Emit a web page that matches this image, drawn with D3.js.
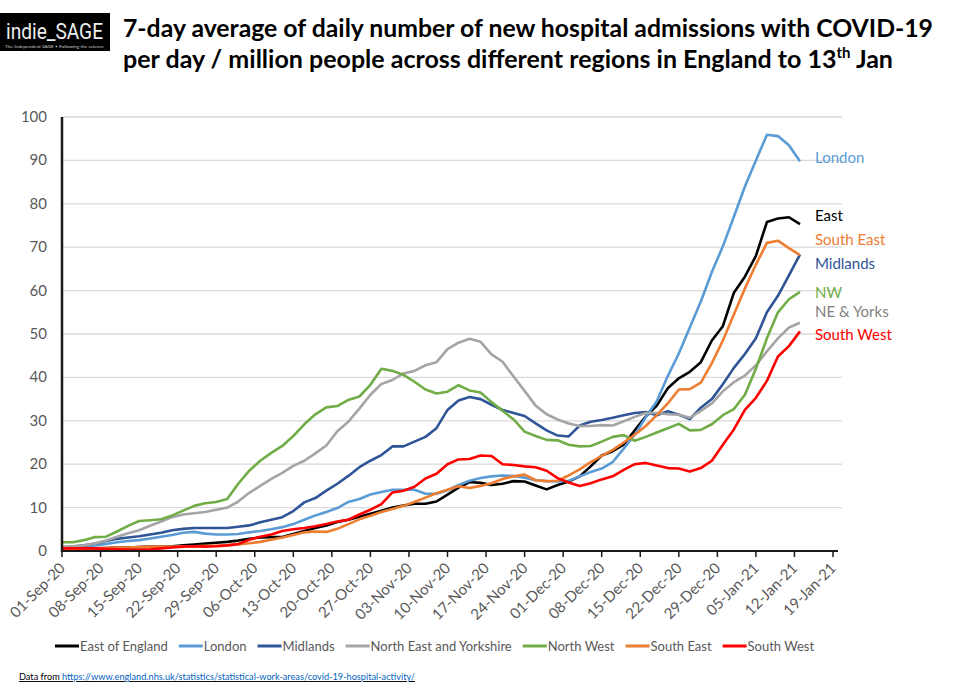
<!DOCTYPE html>
<html><head><meta charset="utf-8">
<script src="https://cdn.jsdelivr.net/npm/d3@7"></script>
<style>body{margin:0;background:#fff;} svg{display:block;font-family:Lato,"Open Sans",sans-serif;}</style>
</head><body><svg id="c" width="955" height="690"></svg>
<script>
// ---- data (values every 2 days from 01-Sep-20 to 13-Jan-21) ----
const startDate = "2020-09-01";
const stepDays = 2;
const eastOfEngland = [0.5,0.5,0.6,0.6,0.7,0.8,0.8,0.9,1.0,1.0,1.1,1.3,1.5,1.7,1.9,2.1,2.4,2.8,3.1,3.2,3.2,3.9,4.6,5.3,5.9,6.7,7.2,7.9,8.6,9.3,10.0,10.5,10.9,10.9,11.4,13.0,14.6,15.9,15.7,15.2,15.5,16.1,16.0,15.1,14.2,15.2,16.0,17.2,19.5,22.0,23.0,24.5,27.8,31.0,33.5,37.5,39.8,41.3,43.5,48.5,51.8,59.5,63.2,68.0,75.8,76.6,76.9,75.3];
const london = [0.8,0.9,1.0,1.3,1.6,2.0,2.3,2.5,2.9,3.3,3.7,4.2,4.4,4.0,3.8,3.8,3.9,4.3,4.6,5.0,5.5,6.2,7.2,8.2,9.0,9.9,11.3,12.0,13.0,13.6,14.1,14.1,14.1,13.2,13.2,14.0,15.2,16.2,16.8,17.2,17.4,17.3,16.9,16.3,16.1,16.0,16.2,17.2,18.2,19.0,20.5,23.6,26.8,30.8,34.5,40.3,45.5,51.5,57.5,64.3,70.2,77.0,84.0,90.0,95.9,95.6,93.5,89.8];
const midlands = [0.8,1.0,1.3,1.7,2.3,2.8,3.1,3.4,3.8,4.2,4.8,5.1,5.3,5.3,5.3,5.3,5.6,5.9,6.6,7.2,7.8,9.2,11.2,12.2,13.9,15.5,17.3,19.3,20.8,22.1,24.1,24.1,25.2,26.3,28.3,32.5,34.7,35.5,35.0,33.7,32.5,31.8,31.1,29.4,27.8,26.6,26.4,28.9,29.8,30.2,30.7,31.3,31.8,32.0,31.3,32.2,31.4,30.4,33.0,35.0,38.4,42.2,45.4,49.0,55.0,58.8,63.5,68.3];
const northEastYorkshire = [1.0,1.1,1.3,1.7,2.4,3.3,4.1,4.8,5.8,6.8,7.8,8.4,8.7,9.0,9.5,10.0,11.4,13.4,15.0,16.6,18.0,19.6,20.8,22.5,24.3,27.6,29.8,32.8,36.0,38.5,39.4,40.9,41.5,42.8,43.5,46.5,48.0,48.9,48.2,45.3,43.6,40.2,36.9,33.5,31.5,30.3,29.4,28.8,28.8,29.0,28.9,29.9,30.9,31.8,31.8,31.5,31.4,30.7,32.3,34.0,36.8,38.9,40.4,42.8,46.0,49.0,51.5,52.6];
const northWest = [2.0,2.0,2.5,3.2,3.3,4.5,5.8,6.9,7.1,7.3,8.2,9.3,10.4,11.0,11.3,12.0,15.5,18.5,20.8,22.6,24.2,26.5,29.2,31.5,33.1,33.4,34.8,35.6,38.3,42.0,41.5,40.6,39.0,37.2,36.3,36.7,38.2,37.0,36.5,34.3,32.3,30.3,27.5,26.5,25.6,25.5,24.5,24.1,24.2,25.2,26.3,26.7,25.4,26.3,27.3,28.3,29.3,27.8,27.9,29.2,31.3,32.7,36.0,42.0,49.0,55.0,58.0,59.7];
const southEast = [0.5,0.5,0.6,0.6,0.7,0.8,0.8,0.9,1.0,1.0,1.0,1.1,1.1,1.2,1.2,1.3,1.5,1.8,2.1,2.6,3.1,3.7,4.3,4.5,4.4,5.1,6.2,7.3,8.1,9.0,9.7,10.4,11.3,12.3,13.3,14.1,14.9,14.5,15.0,15.6,16.6,17.2,17.6,16.3,16.1,16.2,17.4,18.8,20.5,21.9,23.3,25.0,26.8,28.8,31.3,34.0,37.2,37.3,38.8,43.3,48.5,54.5,60.5,66.0,71.0,71.5,69.8,68.2];
const southWest = [0.6,0.6,0.6,0.6,0.5,0.4,0.3,0.3,0.4,0.6,0.8,1.0,1.1,1.0,1.1,1.3,1.6,2.6,3.3,3.8,4.6,5.0,5.3,5.7,6.2,6.8,7.2,8.4,9.5,10.8,13.5,13.9,14.8,16.7,17.8,20.0,21.1,21.2,22.0,21.9,20.0,19.8,19.5,19.3,18.5,16.8,15.8,15.0,15.6,16.5,17.2,18.7,20.0,20.3,19.7,19.1,19.0,18.3,19.1,20.8,24.5,28.0,32.5,35.3,39.2,44.8,47.2,50.6];

const seriesNames = ["East of England","London","Midlands","North East and Yorkshire","North West","South East","South West"];
const seriesValues = [eastOfEngland,london,midlands,northEastYorkshire,northWest,southEast,southWest];
const seriesColors = ["#000000","#5B9BD5","#2F5597","#A5A5A5","#70AD47","#ED7D31","#FF0000"];

const endLabels = ["London","East","South East","Midlands","NW","NE & Yorks","South West"];
const endLabelColors = ["#5B9BD5","#000000","#ED7D31","#2F5597","#70AD47","#7F7F7F","#FF0000"];
const endLabelAt = [90.6,77.3,71.7,66.2,59.5,55.1,49.8];

const xAxisStart = "2020-09-01", xAxisEnd = "2021-01-19";
const yTicks = [0,10,20,30,40,50,60,70,80,90,100];

const titleLine1 = "7-day average of daily number of new hospital admissions with COVID-19";
const titleLine2a = "per day / million people across different regions in England to 13", titleSup = "th", titleLine2b = " Jan";
const sourcePrefix = "Data from ";
const sourceUrl = "https://www.england.nhs.uk/statistics/statistical-work-areas/covid-19-hospital-activity/";

// ---- drawing ----
const svg = d3.select("#c");
const parse = d3.utcParse("%Y-%m-%d");
const t0 = parse(startDate);
const dates = eastOfEngland.map((_, i) => d3.utcDay.offset(t0, i * stepDays));

const x = d3.scaleUtc().domain([parse(xAxisStart), parse(xAxisEnd)]).range([62, 833]);
const y = d3.scaleLinear().domain([0, 100]).range([551, 117]);

// logo
const logo = svg.append("g");
logo.append("rect").attr("x", 0).attr("y", 13).attr("width", 110).attr("height", 38).attr("fill", "#000");
logo.append("text").attr("x", 6).attr("y", 39).attr("fill", "#eee").attr("font-family", "Roboto, Arial, sans-serif")
  .attr("font-size", 22).attr("textLength", 97).attr("lengthAdjust", "spacingAndGlyphs").text("indie_SAGE");
logo.append("text").attr("x", 5).attr("y", 48).attr("fill", "#ccc").attr("font-size", 4.5)
  .attr("textLength", 99).attr("lengthAdjust", "spacingAndGlyphs").text("The Independent SAGE • Following the science");

// title
svg.append("text").attr("x", 123).attr("y", 37).attr("font-weight", 700).attr("font-size", 25).attr("fill", "#000")
  .attr("textLength", 810).attr("lengthAdjust", "spacingAndGlyphs").text(titleLine1);
const t2 = svg.append("text").attr("x", 123).attr("y", 68).attr("font-weight", 700).attr("font-size", 25).attr("fill", "#000")
  .attr("textLength", 770).attr("lengthAdjust", "spacingAndGlyphs");
t2.append("tspan").text(titleLine2a);
t2.append("tspan").attr("font-size", 15).attr("dy", -10).text(titleSup);
t2.append("tspan").attr("dy", 10).text(titleLine2b);

// gridlines
svg.append("g").selectAll("line").data(yTicks.filter(d => d > 0)).join("line")
  .attr("x1", 62).attr("x2", 842).attr("y1", d => y(d)).attr("y2", d => y(d))
  .attr("stroke", "#D9D9D9").attr("stroke-width", 1.3);

// y labels
svg.append("g").selectAll("text").data(yTicks).join("text")
  .attr("x", 47).attr("y", d => y(d) + 5).attr("text-anchor", "end")
  .attr("font-size", 15).attr("fill", "#595959").text(d => d);

// lines
const line = d3.line().x((d, i) => x(dates[i])).y(d => y(d));
svg.append("g").selectAll("path").data(seriesValues).join("path")
  .attr("d", d => line(d)).attr("fill", "none")
  .attr("stroke", (d, i) => seriesColors[i]).attr("stroke-width", 2.6)
  .attr("stroke-linejoin", "round");

// axes
const yAxisG = svg.append("g");
yAxisG.append("line").attr("x1", 62).attr("x2", 62).attr("y1", y(100)).attr("y2", y(0) + 1)
  .attr("stroke", "#1a1a1a").attr("stroke-width", 2.5);

const xTicks = d3.utcDay.range(parse(xAxisStart), d3.utcDay.offset(parse(xAxisEnd), 1), 7);
const xg = svg.append("g");
xg.append("line").attr("x1", 61).attr("x2", 838).attr("y1", y(0)).attr("y2", y(0))
  .attr("stroke", "#1a1a1a").attr("stroke-width", 2.2);
xg.selectAll("line.tk").data(xTicks).join("line").attr("class", "tk")
  .attr("x1", d => x(d)).attr("x2", d => x(d)).attr("y1", y(0)).attr("y2", y(0) + 6)
  .attr("stroke", "#1a1a1a").attr("stroke-width", 1.5);
const fmt = d3.utcFormat("%d-%b-%y");
xg.selectAll("text").data(xTicks).join("text")
  .attr("transform", d => `translate(${x(d) + 4},${y(0) + 18}) rotate(-45)`)
  .attr("text-anchor", "end").attr("font-size", 15).attr("fill", "#595959")
  .text(d => fmt(d));

// end labels
svg.append("g").selectAll("text").data(endLabels).join("text")
  .attr("x", 815).attr("y", (d, i) => y(endLabelAt[i]) + 5)
  .attr("font-size", 15).attr("fill", (d, i) => endLabelColors[i]).text(d => d);

// legend
const lg = svg.append("g").attr("font-size", 13).attr("fill", "#595959");
let lx = 55;
seriesNames.forEach((n, i) => {
  lg.append("line").attr("x1", lx).attr("x2", lx + 24).attr("y1", 646).attr("y2", 646)
    .attr("stroke", seriesColors[i]).attr("stroke-width", 3);
  const t = lg.append("text").attr("x", lx + 25).attr("y", 651).text(n);
  lx += 25 + t.node().getComputedTextLength() + 11;
});

// source
const src = svg.append("text").attr("x", 19).attr("y", 680).attr("font-size", 9.5)
  .attr("text-decoration", "underline");
src.append("tspan").attr("fill", "#000").text(sourcePrefix);
src.append("tspan").attr("fill", "#0563C1").text(sourceUrl);
src.attr("textLength", 396).attr("lengthAdjust", "spacingAndGlyphs");
</script></body></html>
